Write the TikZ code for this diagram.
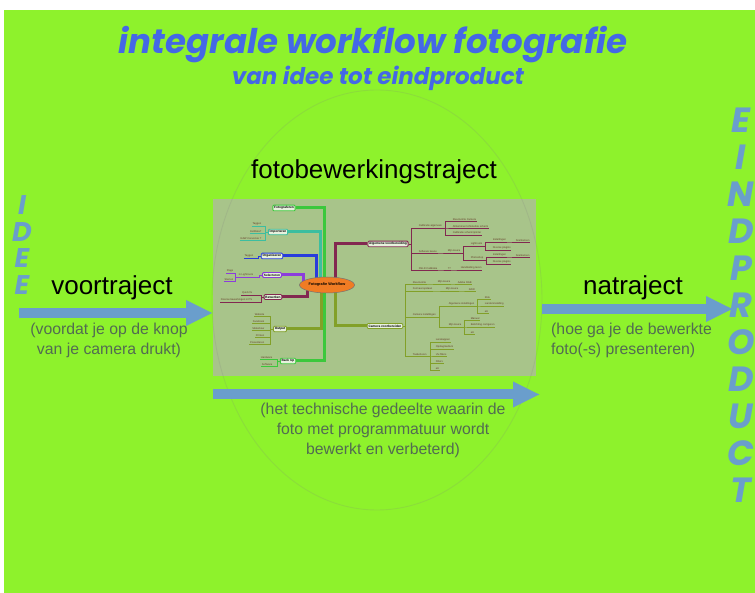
\documentclass[tikz,border=0pt]{standalone}
\usepackage{fontspec}
\setmainfont{Liberation Sans}
\newfontfamily\posterfont{Poppins}
\usepackage{tikz}
\usetikzlibrary{shapes.geometric, arrows.meta, positioning, calc}
\definecolor{bggreen}{RGB}{142,242,44}
\definecolor{titleblue}{RGB}{68,104,230}
\definecolor{steelarrow}{RGB}{106,158,204}
\definecolor{notegray}{RGB}{82,108,82}
\definecolor{shotbg}{RGB}{168,196,138}
\definecolor{mmfill}{RGB}{232,242,222}
\definecolor{mmorange}{RGB}{240,124,36}
\definecolor{mmgreen}{RGB}{60,200,60}
\definecolor{mmteal}{RGB}{60,190,160}
\definecolor{mmblue}{RGB}{40,60,220}
\definecolor{mmpurple}{RGB}{140,60,220}
\definecolor{mmmaroon}{RGB}{130,40,80}
\definecolor{mmolive}{RGB}{130,160,40}
\definecolor{leaftext}{RGB}{100,60,40}
\tikzset{
    heading/.style={font=\posterfont\bfseries\itshape\fontsize{#1}{#1}\selectfont, text=titleblue, inner sep=0pt},
    stackword/.style={text=steelarrow, align=center, inner sep=0pt},
    phase/.style={font=\fontsize{26}{28}\selectfont, inner sep=0pt},
    note/.style={font=\fontsize{15.8}{20}\selectfont, text=notegray, inner sep=0pt},
    bigarrow/.style={draw=steelarrow, line width=10pt, -{Triangle[length=27pt, width=24pt]}},
    zone/.style={ellipse, draw=gray, draw opacity=.18, line width=.9pt, minimum width=330pt, minimum height=420pt},
    shotbox/.style={rectangle, fill=shotbg, minimum width=323pt, minimum height=177pt, inner sep=0pt},
    mmhub/.style={ellipse, draw=black!55, line width=.5pt, fill=mmorange, minimum width=55pt, minimum height=16pt, inner sep=0pt, font=\bfseries\fontsize{3.8}{4}\selectfont},
    mmbox/.style={rectangle, draw=#1, line width=.9pt, rounded corners=1pt, fill=mmfill, inner sep=1.3pt, font=\bfseries\fontsize{3.2}{3.6}\selectfont},
    mmleaf/.style={inner sep=.6pt, text=leaftext, font=\fontsize{2.6}{3}\selectfont,
        append after command={(\tikzlastnode.south west) edge[draw=#1, line width=.6pt] (\tikzlastnode.south east)}},
    leafL/.style={mmleaf=#1, anchor=south east},
    leafR/.style={mmleaf=#1, anchor=south west},
    mmbranch/.style={draw=#1, line width=3pt},
    leafwire/.style={draw=#1, line width=.6pt},
    ll/.style={to path={(\tikztostart.#1) -- ++(-2.5,0) |- (\tikztotarget.south east)}},
    ll/.default=west,
    rl/.style={to path={(\tikztostart.#1) -- ++(2.5,0) |- (\tikztotarget.south west)}},
    rl/.default=east
}

\begin{document}
\begin{tikzpicture}[x=1pt, y=-1pt]
    \useasboundingbox (0,0) rectangle (755,593);
    \fill[bggreen] (4,10) rectangle (755,593);

    % titel
    \node[heading=34] (titel) at (373,45) {integrale workflow fotografie};
    \node[heading=23] (subtitel) at (378,78) {van idee tot eindproduct};

    % begin en eind
    \node[stackword, font=\posterfont\bfseries\itshape\fontsize{27}{26.7}\selectfont] (idee) at (22,245) {I\\D\\E\\E};
    \node[stackword, font=\posterfont\bfseries\itshape\fontsize{35}{37}\selectfont] (eindproduct) at (741,305) {E\\I\\N\\D\\P\\R\\O\\D\\U\\C\\T};

    % screenshot van de mindmap
    \node[shotbox] (mindmap) at (374.5,287.5) {};

    % hoofdtakken links
    \node[mmbox=mmgreen]  (fotograferen) at (284,208) {Fotograferen};
    \node[mmbox=mmteal]   (importeren)   at (278,232) {Importeren};
    \node[mmbox=mmblue]   (organiseren)  at (272,256) {Organiseren};
    \node[mmbox=mmpurple] (selecteren)   at (272,275) {Selecteren};
    \node[mmbox=mmmaroon] (bewerken)     at (273,297) {Bewerken};
    \node[mmbox=mmolive]  (output)       at (280,329) {Output};
    \node[mmbox=mmgreen]  (backup)       at (288,361) {Back Up};
    % hoofdtakken rechts
    \node[mmbox=mmmaroon] (algemeen) at (388,244) {Algemene voorbereiding};
    \node[mmbox=mmolive]  (camera)   at (385,326) {Camera voorbereiden};

    % bladeren links
    \node[leafL=mmteal] (imp-tag)  at (262,226) {Taggen};
    \node[leafL=mmteal] (imp-exif) at (262,233) {Exifdata?};
    \node[leafL=mmteal] (imp-raw)  at (262,240) {RAW Conversie ?};
    \node[leafL=mmblue] (org-tag)  at (254,258) {Taggen};
    \node[leafL=mmpurple] (sel-lr)   at (254,277) {in Lightroom};
    \node[leafL=mmpurple] (sel-flag) at (234,273) {Flags};
    \node[leafL=mmpurple] (sel-ster) at (234,281) {Sterren};
    \node[leafL=mmmaroon] (bew-quick) at (253,295) {Quick fix};
    \node[leafL=mmmaroon] (bew-ps)    at (253,302) {Diverse bewerkingen in PS};
    \node[leafL=mmolive] (out-web)   at (265,316) {Website};
    \node[leafL=mmolive] (out-fb)    at (265,323) {Facebook};
    \node[leafL=mmolive] (out-slide) at (265,330) {Slideshow};
    \node[leafL=mmolive] (out-print) at (265,337) {Printen};
    \node[leafL=mmolive] (out-pres)  at (265,344) {Presenteren};
    \node[leafL=mmgreen] (bu-hw) at (273,359) {Hardware};
    \node[leafL=mmgreen] (bu-sw) at (273,366) {Software};

    % bladeren rechts: algemene voorbereiding
    \node[leafR=mmmaroon] (av-cal)    at (418,228) {Calibratie algemeen};
    \node[leafR=mmmaroon] (av-kleur)  at (452,221) {Kleurruimte Camera};
    \node[leafR=mmmaroon] (av-scherm) at (452,228) {Afstemmen lichtsterkte scherm};
    \node[leafR=mmmaroon] (av-print)  at (452,235) {Calibratie scherm/printer};
    \node[leafR=mmmaroon] (av-soft)   at (418,253) {Software keuze};
    \node[leafR=mmmaroon] (av-keuze)  at (447,253) {Mijn keuze};
    \node[leafR=mmmaroon] (av-lr)     at (470,246) {Lightroom};
    \node[leafR=mmmaroon] (av-lr-inst) at (492,242) {Instellingen};
    \node[leafR=mmmaroon] (av-lr-snel) at (515,242) {Sneltoetsen};
    \node[leafR=mmmaroon] (av-lr-plug) at (492,250) {Diverse plugins};
    \node[leafR=mmmaroon] (av-ps)     at (470,260) {Photoshop};
    \node[leafR=mmmaroon] (av-ps-inst) at (492,257) {Instellingen};
    \node[leafR=mmmaroon] (av-ps-snel) at (515,257) {Sneltoetsen};
    \node[leafR=mmmaroon] (av-ps-plug) at (492,264) {Diverse plugins};
    \node[leafR=mmmaroon] (av-dslr)   at (418,270) {DSLR Calibratie};
    \node[leafR=mmmaroon] (av-vraag)  at (447,270) {??};
    \node[leafR=mmmaroon] (av-hand)   at (460,270) {Handleiding lezen};

    % bladeren rechts: camera voorbereiden
    \node[leafR=mmolive] (cv-kleur)   at (412,284) {Kleurruimte};
    \node[leafR=mmolive] (cv-kleur-k) at (437,284) {Mijn keuze};
    \node[leafR=mmolive] (cv-rgb)     at (457,284) {Adobe RGB};
    \node[leafR=mmolive] (cv-formaat) at (412,291) {Formaat opslaan};
    \node[leafR=mmolive] (cv-form-k)  at (445,291) {Mijn keuze};
    \node[leafR=mmolive] (cv-raw)     at (468,291) {RAW};
    \node[leafR=mmolive] (cv-inst)    at (412,317) {Camera instellingen};
    \node[leafR=mmolive] (cv-alg)     at (448,306) {Algemene instellingen};
    \node[leafR=mmolive] (cv-klok)    at (484,299) {Klok};
    \node[leafR=mmolive] (cv-land)    at (484,306) {Landeninstelling};
    \node[leafR=mmolive] (cv-etc1)    at (484,313) {etc};
    \node[leafR=mmolive] (cv-keuze)   at (448,327) {Mijn keuze};
    \node[leafR=mmolive] (cv-manual)  at (470,320) {Manual};
    \node[leafR=mmolive] (cv-belicht) at (470,327) {Belichting corrigeren};
    \node[leafR=mmolive] (cv-etc2)    at (470,334) {etc};
    \node[leafR=mmolive] (cv-toe)     at (412,356) {Toebehoren};
    \node[leafR=mmolive] (cv-lens)    at (435,342) {Lenskappen};
    \node[leafR=mmolive] (cv-opslag)  at (435,349) {Opslagmedium};
    \node[leafR=mmolive] (cv-uv)      at (435,356) {UV-filters};
    \node[leafR=mmolive] (cv-filter)  at (435,363) {Filters};
    \node[leafR=mmolive] (cv-etc3)    at (435,370) {etc};

    % verbindingen naar de bladeren
    \draw[leafwire=mmteal] (importeren) edge[ll] (imp-tag) edge[ll] (imp-exif) edge[ll] (imp-raw);
    \draw[leafwire=mmblue] (organiseren) edge[ll] (org-tag);
    \draw[leafwire=mmpurple] (selecteren) edge[ll] (sel-lr);
    \draw[leafwire=mmpurple] (sel-lr) edge[ll=south west] (sel-flag) edge[ll=south west] (sel-ster);
    \draw[leafwire=mmmaroon] (bewerken) edge[ll] (bew-quick) edge[ll] (bew-ps);
    \draw[leafwire=mmolive] (output) edge[ll] (out-web) edge[ll] (out-fb) edge[ll] (out-slide) edge[ll] (out-print) edge[ll] (out-pres);
    \draw[leafwire=mmgreen] (backup) edge[ll] (bu-hw) edge[ll] (bu-sw);

    \draw[leafwire=mmmaroon] (algemeen) edge[rl] (av-cal) edge[rl] (av-soft) edge[rl] (av-dslr);
    \draw[leafwire=mmmaroon] (av-cal) edge[rl=south east] (av-kleur) edge[rl=south east] (av-scherm) edge[rl=south east] (av-print);
    \draw[leafwire=mmmaroon] (av-soft) edge[rl=south east] (av-keuze);
    \draw[leafwire=mmmaroon] (av-keuze) edge[rl=south east] (av-lr) edge[rl=south east] (av-ps);
    \draw[leafwire=mmmaroon] (av-lr) edge[rl=south east] (av-lr-inst) edge[rl=south east] (av-lr-plug);
    \draw[leafwire=mmmaroon] (av-lr-inst) edge[rl=south east] (av-lr-snel);
    \draw[leafwire=mmmaroon] (av-ps) edge[rl=south east] (av-ps-inst) edge[rl=south east] (av-ps-plug);
    \draw[leafwire=mmmaroon] (av-ps-inst) edge[rl=south east] (av-ps-snel);
    \draw[leafwire=mmmaroon] (av-dslr) edge[rl=south east] (av-vraag);
    \draw[leafwire=mmmaroon] (av-vraag) edge[rl=south east] (av-hand);

    \draw[leafwire=mmolive] (camera) edge[rl] (cv-kleur) edge[rl] (cv-formaat) edge[rl] (cv-inst) edge[rl] (cv-toe);
    \draw[leafwire=mmolive] (cv-kleur) edge[rl=south east] (cv-kleur-k);
    \draw[leafwire=mmolive] (cv-kleur-k) edge[rl=south east] (cv-rgb);
    \draw[leafwire=mmolive] (cv-formaat) edge[rl=south east] (cv-form-k);
    \draw[leafwire=mmolive] (cv-form-k) edge[rl=south east] (cv-raw);
    \draw[leafwire=mmolive] (cv-inst) edge[rl=south east] (cv-alg) edge[rl=south east] (cv-keuze);
    \draw[leafwire=mmolive] (cv-alg) edge[rl=south east] (cv-klok) edge[rl=south east] (cv-land) edge[rl=south east] (cv-etc1);
    \draw[leafwire=mmolive] (cv-keuze) edge[rl=south east] (cv-manual) edge[rl=south east] (cv-belicht) edge[rl=south east] (cv-etc2);
    \draw[leafwire=mmolive] (cv-toe) edge[rl=south east] (cv-lens) edge[rl=south east] (cv-opslag) edge[rl=south east] (cv-uv) edge[rl=south east] (cv-filter) edge[rl=south east] (cv-etc3);

    % hoofdtakken naar het midden
    \coordinate (hub) at (327,285);
    \draw[mmbranch=mmgreen]  (fotograferen.east) -| ([xshift=-3pt]hub);
    \draw[mmbranch=mmgreen]  (backup.east) -| ([xshift=-3pt]hub);
    \draw[mmbranch=mmolive]  (output.east) -| ([xshift=-6pt]hub);
    \draw[mmbranch=mmteal]   (importeren.east) -| ([xshift=-7pt]hub);
    \draw[mmbranch=mmblue]   (organiseren.east) -| ([xshift=-11pt]hub);
    \draw[mmbranch=mmpurple] (selecteren.east) -| ([xshift=-24pt]hub);
    \draw[mmbranch=mmmaroon] (bewerken.east) -| ([xshift=-20pt]hub);
    \draw[mmbranch=mmmaroon] (algemeen.west) -| ([xshift=8pt]hub);
    \draw[mmbranch=mmolive]  (camera.west) -| ([xshift=8pt]hub);
    \node[mmhub] (workflow) at (hub) {Fotografie Workflow};

    % de zone van de fotobewerking
    \node[zone] (bewerkzone) at (377,300) {};

    % trajecten
    \node[phase] (voortraject) at (112,288) {voortraject};
    \node[phase] (fotobewerking) at (374,172) {fotobewerkingstraject};
    \node[phase] (natraject) at (633,288) {natraject};

    \coordinate (voor-start) at (19,313);
    \coordinate (voor-end) at (213,313);
    \coordinate (na-start) at (542,309);
    \coordinate (na-end) at (733,309);
    \coordinate (bewerk-start) at (213,394.5);
    \coordinate (bewerk-end) at (540,394.5);
    \draw[bigarrow] (voor-start) -- (voor-end);
    \draw[bigarrow] (na-start) -- (na-end);
    \draw[bigarrow] (bewerk-start) -- (bewerk-end);

    \node[note, align=center] (voor-uitleg) at (109,340) {(voordat je op de knop\\van je camera drukt)};
    \node[note, align=left, anchor=west] (na-uitleg) at (551,340) {(hoe ga je de bewerkte\\foto(-s) presenteren)};
    \node[note, align=center] (bewerk-uitleg) at (383,430) {(het technische gedeelte waarin de\\foto met programmatuur wordt\\bewerkt en verbeterd)};
\end{tikzpicture}
\end{document}
